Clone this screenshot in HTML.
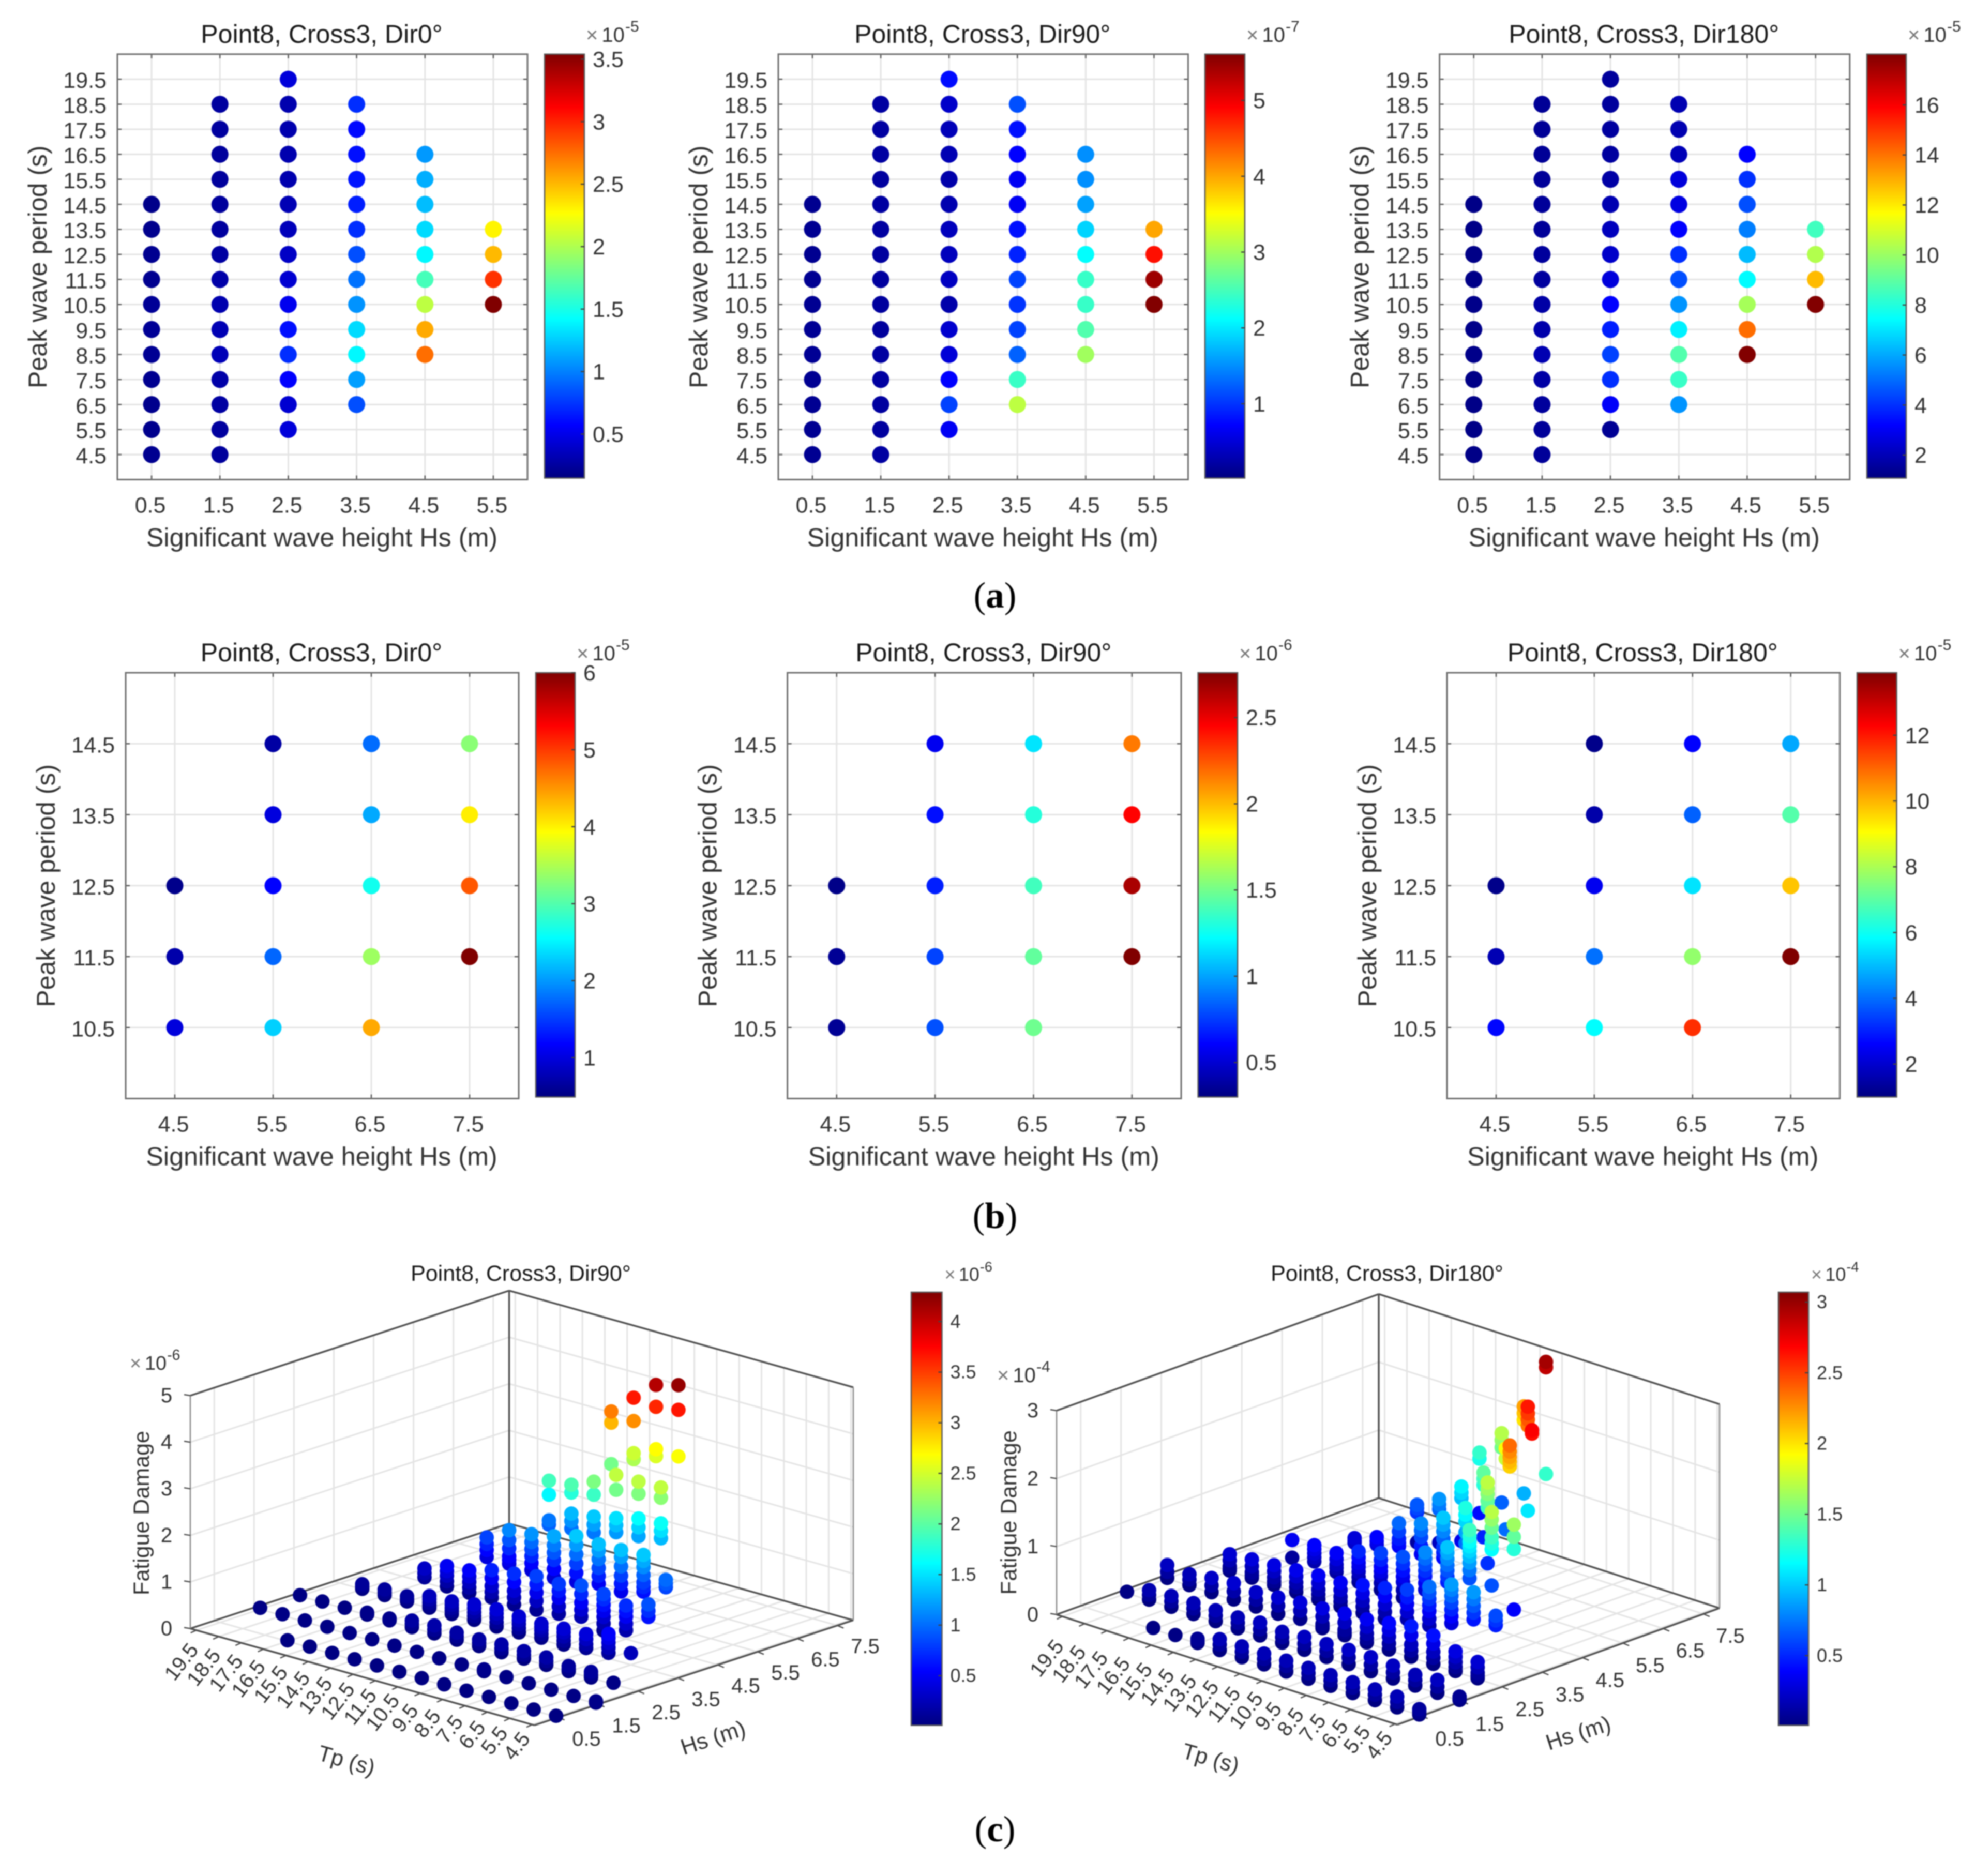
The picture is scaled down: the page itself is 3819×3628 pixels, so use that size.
<!DOCTYPE html>
<html lang="en">
<head>
<meta charset="utf-8">
<title>Point8, Cross3 fatigue damage charts</title>
<style>
html,body{margin:0;padding:0;background:#fff;}
svg{display:block;position:absolute;left:0;top:0;filter:blur(1px);}
text{font-family:"Liberation Sans",Arial,sans-serif;}
</style>
</head>
<body>
<svg id="figure" xmlns="http://www.w3.org/2000/svg" width="3819" height="3628" viewBox="0 0 3819 3628">
<defs>
<linearGradient id="jet" x1="0" y1="1" x2="0" y2="0">
<stop offset="0" stop-color="#000080"/>
<stop offset="0.125" stop-color="#0000ff"/>
<stop offset="0.375" stop-color="#00ffff"/>
<stop offset="0.625" stop-color="#ffff00"/>
<stop offset="0.875" stop-color="#ff0000"/>
<stop offset="1" stop-color="#800000"/>
</linearGradient>
</defs>
<rect x="0" y="0" width="3819" height="3628" fill="#ffffff"/>
<text x="1924" y="1175" font-size="71" text-anchor="middle" style="font-family:'Liberation Serif',serif"><tspan>(</tspan><tspan font-weight="bold">a</tspan><tspan>)</tspan></text>
<text x="1924" y="2375" font-size="71" text-anchor="middle" style="font-family:'Liberation Serif',serif"><tspan>(</tspan><tspan font-weight="bold">b</tspan><tspan>)</tspan></text>
<text x="1924" y="3561" font-size="71" text-anchor="middle" style="font-family:'Liberation Serif',serif"><tspan>(</tspan><tspan font-weight="bold">c</tspan><tspan>)</tspan></text>
</svg>
<script>
/* ---------- shared categories ---------- */
const hsCategoriesA = [0.5, 1.5, 2.5, 3.5, 4.5, 5.5];
const tpCategoriesA = [4.5, 5.5, 6.5, 7.5, 8.5, 9.5, 10.5, 11.5, 12.5, 13.5, 14.5, 15.5, 16.5, 17.5, 18.5, 19.5];
const hsCategoriesB = [4.5, 5.5, 6.5, 7.5];
const tpCategoriesB = [10.5, 11.5, 12.5, 13.5, 14.5];
const hsCategoriesC = [0.5, 1.5, 2.5, 3.5, 4.5, 5.5, 6.5, 7.5];
const tpCategoriesC = [4.5, 5.5, 6.5, 7.5, 8.5, 9.5, 10.5, 11.5, 12.5, 13.5, 14.5, 15.5, 16.5, 17.5, 18.5, 19.5];
const n = null;

/* ---------- panel (a) values: one row per Hs, one entry per Tp ---------- */
const a0Damage = [
 [.2,.19,.19,.2,.21,.22,.22,.2,.2,.19,.18,n,n,n,n,n],
 [.24,.25,.26,.28,.33,.32,.3,.28,.26,.25,.24,.24,.24,.25,.25,n],
 [n,.45,.42,.57,.72,.62,.52,.42,.38,.34,.32,.3,.3,.3,.3,.45],
 [n,n,.83,1.1,1.4,1.3,1.06,.95,.83,.72,.67,.64,.62,.6,.72,n],
 [n,n,n,n,2.75,2.55,2.05,1.65,1.4,1.3,1.2,1.15,1.08,n,n,n],
 [n,n,n,n,n,n,3.54,2.95,2.5,2.3,n,n,n,n,n,n]
];
const a90Damage = [
 [.12,.12,.12,.12,.13,.13,.12,.12,.11,.12,.11,n,n,n,n,n],
 [.2,.19,.19,.2,.2,.18,.18,.19,.19,.2,.2,.19,.2,.2,.2,n],
 [n,.66,1.08,.72,.5,.45,.25,.38,.35,.35,.28,.25,.3,.33,.42,.78],
 [n,n,3.15,2.43,1.25,1.08,1,1.08,.9,.8,.66,.66,.72,.8,1.15,n],
 [n,n,n,n,3,2.56,2.42,2.42,2.12,1.88,1.6,1.5,1.5,n,n,n],
 [n,n,n,n,n,n,5.6,5.45,4.83,4,n,n,n,n,n,n]
];
const a180Damage = [
 [1.2,1.2,1.2,1.2,1.25,1.25,1.25,1.2,1.2,1.2,1.2,n,n,n,n,n],
 [1.5,1.5,1.55,1.7,1.9,1.8,1.7,1.6,1.55,1.5,1.5,1.5,1.45,1.45,1.45,n],
 [n,1.42,3.1,3.96,4.3,3.7,3.2,2.6,2.3,2.1,1.9,1.7,1.6,1.6,1.55,1.55],
 [n,n,5.66,8.37,8.8,7.2,5.66,4.5,3.96,3.2,2.7,2.6,2,1.9,1.9,n],
 [n,n,n,n,18,14.1,10.2,7.4,6.3,5.3,4.5,4,3.2,n,n,n],
 [n,n,n,n,n,n,18,12.8,10.4,8.5,n,n,n,n,n,n]
];
const a0ColorRange = [0.148, 3.54];
const a90ColorRange = [0.02, 5.61];
const a180ColorRange = [1.08, 18.03];
const a0ColorTicks = [0.5, 1, 1.5, 2, 2.5, 3, 3.5];
const a90ColorTicks = [1, 2, 3, 4, 5];
const a180ColorTicks = [2, 4, 6, 8, 10, 12, 14, 16];

/* ---------- panel (b) values ---------- */
const b0Damage = [
 [.99,.72,.55,n,n],
 [2.3,1.73,1.18,1,.68],
 [4.4,3.41,2.64,2.09,1.76],
 [n,6,4.84,4.02,3.3]
];
const b90Damage = [
 [.35,.35,.32,n,n],
 [.8,.77,.68,.64,.57],
 [1.49,1.46,1.38,1.31,1.16],
 [n,2.76,2.66,2.45,2.16]
];
const b180Damage = [
 [2.68,1.65,1.13,n,n],
 [5.84,4.03,2.42,1.52,1.13],
 [11.7,7.7,5.5,3.84,2.6],
 [n,13.9,9.8,6.9,4.74]
];
const b0ColorRange = [0.49, 6];
const b90ColorRange = [0.3, 2.76];
const b180ColorRange = [1, 13.9];
const b0ColorTicks = [1, 2, 3, 4, 5, 6];
const b90ColorTicks = [0.5, 1, 1.5, 2, 2.5];
const b180ColorTicks = [2, 4, 6, 8, 10, 12];

/* ---------- panel (c) values: per Hs, per Tp, list of damage samples ---------- */
const c90Damage = [
 [[.02],[.02],[.02],[.02],[.02],[.02],[.02],[.02],[.02],[.02],[.02],[.02],[.02],[],[],[]],
 [[.02,.05],[.03],[.03],[.03],[.03],[.02,.06],[.03],[.03],[.03],[.03],[.03],[.03],[.03],[.03],[.03],[.03]],
 [[],[.03],[.01,.07,.13],[.01,.06,.12],[.01,.09,.17],[.01,.09,.17],[.01,.09,.18],[.01,.08,.15],[.01,.08,.16],[.01,.09,.18],[.01,.08,.15],[.02,.06],[.01,.05],[.02],[.02],[.02]],
 [[],[],[.25],[.12,.23,.34,.44,.53],[.09,.17,.28,.39],[.03,.11,.2,.29,.37],[.04,.12,.2,.27,.34],[.02,.11,.2,.28,.36],[.01,.1,.2,.29,.38],[.02,.1,.18,.27,.35],[.01,.08,.14,.21,.28],[.01,.06,.12,.19,.26],[.01,.06,.12],[.01,.07,.13],[.01,.06,.11],[]],
 [[],[],[],[.61,.74,.88],[.19,.33,.48,.6,.72],[.05,.2,.34,.47,.6,.72,.83],[.21,.36,.51,.7,.88],[.14,.3,.48,.63,.78],[.09,.28,.46,.64,.81],[.07,.22,.36,.55,.73],[.08,.2,.33,.5,.67],[.05,.16,.28,.4,.53],[.05,.16,.28,.38,.49],[.11,.2,.3],[],[]],
 [[],[],[],[],[.83,.91,.99],[.6,.7,.8,.96,1.13,1.26,1.39],[.47,.64,.81,1.01,1.21,1.36],[.5,.67,.84,1.03,1.21,1.35],[.41,.6,.8,1,1.2,1.39],[.36,.55,.74,.9,1.06,1.25],[.39,.54,.69,.84,.99,1.16],[.39,.47,.55,.72,.9,1.11],[.4,.55,.68,.82],[],[],[]],
 [[],[],[],[],[],[],[1.33,1.49,1.65,2.2,2.42],[1.24,1.43,1.62,2.15,2.41],[1.19,1.34,1.49,2.1,2.42],[1.05,1.22,1.39,1.86,2.14],[1,1.16,1.32,1.77,1.94],[.95,1.04,1.59,1.89],[],[],[],[]],
 [[],[],[],[],[],[],[],[2.67,3.67,4.2],[2.54,2.69,3.6,4.07],[2.34,2.47,3.16,3.66],[2.1,2.99,3.23],[],[],[],[],[]]
];
const c180Damage = [
 [[.01,.05,.09],[.01,.09,.17],[.01,.09,.17],[.01,.09,.17],[.01,.09,.17],[.01,.09,.17],[.01,.09,.17],[.01,.09,.17],[.01,.09,.17],[.01,.09,.17],[.01,.04,.07],[.02],[.02],[],[],[]],
 [[.01,.03,.06],[.01,.1,.2],[.01,.09,.17],[.01,.1,.2],[.01,.11,.22],[.01,.11,.22],[.01,.1,.2],[.01,.1,.2],[.01,.09,.17],[.01,.1,.2],[.01,.09,.17],[.01,.09,.17],[.01,.09,.17],[.01,.09,.17],[.01,.08,.15],[.02]],
 [[],[.01,.05,.09,.17,.25],[.01,.07,.14,.22,.3],[.01,.1,.19,.31,.43],[.01,.1,.19,.33,.46],[.01,.1,.2,.3,.4],[.01,.07,.14,.24,.35],[.01,.05,.09,.2,.33],[.01,.04,.07,.18,.3],[.04,.16,.28],[.01,.13,.25],[.01,.11,.22],[.01,.13,.25],[.01,.11,.22],[.01,.09,.17],[.01,.1,.2]],
 [[],[],[.47,.54,.61],[.45,.55,.65,.75,.85],[.29,.39,.49,.59,.69,.78,.86],[.15,.25,.36,.45,.54,.63,.72],[.14,.25,.36,.46,.57],[.04,.14,.25,.37,.49],[.02,.11,.2,.31,.43],[.01,.08,.15,.25,.36],[.01,.08,.15,.25,.36],[.01,.08,.15,.24,.33],[.01,.06,.12,.21,.3],[.01,.05,.09,.18,.28],[.01,.04,.07,.16,.25],[]],
 [[],[],[],[.38,1.27,1.45,1.63],[.63,1.16,1.25,1.34,1.48,1.6,1.71],[.63,.75,.86,.95,1.03,1.1,1.17,1.25,1.34],[.47,.55,.64,.72,.81,.9,.98],[.25,.35,.45,.53,.62,.71,.8],[.03,.14,.26,.34,.43,.53,.63],[.04,.14,.24,.31,.38,.48,.58],[.05,.12,.2,.27,.33,.41,.5],[.09,.15,.2,.28,.37],[.14,.2,.26,.32,.38],[.09,.35],[],[]],
 [[],[],[],[],[2.65,2.7],[2.06,2.13,2.2,2.28,2.37],[.53,1.35,1.45,1.55,1.63,1.72],[.72,.88,1.04,1.14,1.24],[.4,.48,.56,.68,.79,.89,.99],[.35,.47,.6,.7,.8],[.36,.41,.47,.58,.7],[.28,.33,.39],[.2,.23,.27],[],[],[]],
 [[],[],[],[],[],[],[1.09,2.34,2.43,2.52,2.62],[.71,1.75,1.9],[.49,1.26,1.35,1.44],[.33,.96,1.04,1.13],[.2,.69,.76,.84],[.1,.54,.6,.65],[],[],[],[]],
 [[],[],[],[],[],[],[],[1.31,2.88,2.96],[.92,2,2.1,2.2],[.68,1.49,1.6,1.7],[.42,1.22,1.31],[],[],[],[],[]]
];
const c90ColorRange = [0.01, 4.29];
const c180ColorRange = [0.007, 3.07];
const c90ColorTicks = [0.5, 1, 1.5, 2, 2.5, 3, 3.5, 4];
const c180ColorTicks = [0.5, 1, 1.5, 2, 2.5, 3];
const c90ZTicks = [0, 1, 2, 3, 4, 5];
const c180ZTicks = [0, 1, 2, 3];

/* ---------- helpers ---------- */
const SVGNS = 'http://www.w3.org/2000/svg';
const figure = document.getElementById('figure');
const AXIS = '#5a5a5a', GRID = '#e4e4e4', INK = '#333333', TITLE = '#1a1a1a';

function mk(parent, tag, attrs) {
  const e = document.createElementNS(SVGNS, tag);
  for (const k in attrs) e.setAttribute(k, attrs[k]);
  parent.appendChild(e);
  return e;
}
function line(parent, x1, y1, x2, y2, stroke, width) {
  return mk(parent, 'line', {x1, y1, x2, y2, stroke, 'stroke-width': width});
}
function txt(parent, x, y, str, size, anchor, fill, rot) {
  const a = {x, y, 'font-size': size, 'text-anchor': anchor, fill};
  if (rot) a.transform = 'rotate(' + rot + ' ' + x + ' ' + y + ')';
  const e = mk(parent, 'text', a);
  e.textContent = str;
  return e;
}
function jet(t) {
  t = Math.max(0, Math.min(1, t));
  const stops = [[0,0,0,128],[.125,0,0,255],[.375,0,255,255],[.625,255,255,0],[.875,255,0,0],[1,128,0,0]];
  for (let i = 1; i < stops.length; i++) {
    if (t <= stops[i][0]) {
      const a = stops[i-1], b = stops[i], f = (t - a[0]) / (b[0] - a[0]);
      return 'rgb(' + [1,2,3].map(j => Math.round(a[j] + (b[j] - a[j]) * f)).join(',') + ')';
    }
  }
  return 'rgb(128,0,0)';
}
function fmt(v) { return String(v); }

function exponent(parent, x, y, size, power) {
  const times = txt(parent, x, y, '\u00d7', size, 'start', '#777777');
  
  
  const ten = txt(parent, x + size * 0.76, y, '10', size, 'start', INK);
  
  
  const sup = txt(parent, x + size * 1.9, y - size * 0.5, power, size * 0.75, 'start', INK);
  
  
}

function colorbar(parent, box, range, ticks, fontSize, labelGap, baselineShift, power, expGeom) {
  const g = mk(parent, 'g', {});
  
  
  const r = mk(g, 'rect', {x: box.left, y: box.top, width: box.right - box.left, height: box.bottom - box.top, fill: 'url(#jet)', stroke: AXIS, 'stroke-width': 2.5});
  
  
  const cy = v => box.bottom - (v - range[0]) / (range[1] - range[0]) * (box.bottom - box.top);
  ticks.forEach(v => {
    const t = line(g, box.right - 7, cy(v), box.right, cy(v), '#444', 2.5);
    
    
    const l = txt(g, box.right + labelGap, cy(v) + baselineShift, fmt(v), fontSize, 'start', INK);
    
    
  });
  exponent(g, expGeom.x, expGeom.y, expGeom.size, power);
}

/* ---------- 2D scatter panels ---------- */
function scatter2D(spec) {
  const g = mk(figure, 'g', {});
  
  
  const b = spec.box;
  const xOf = v => b.left + (v - spec.xLim[0]) / (spec.xLim[1] - spec.xLim[0]) * (b.right - b.left);
  const yOf = v => b.bottom - (v - spec.yLim[0]) / (spec.yLim[1] - spec.yLim[0]) * (b.bottom - b.top);

  const bg = mk(g, 'rect', {x: b.left, y: b.top, width: b.right - b.left, height: b.bottom - b.top, fill: '#fff'});
  
  

  spec.hs.forEach(v => {
    const gl = line(g, xOf(v), b.top, xOf(v), b.bottom, GRID, 3);
    
    
  });
  spec.tp.forEach(v => {
    const gl = line(g, b.left, yOf(v), b.right, yOf(v), GRID, 3);
    
    
  });
  spec.hs.forEach(v => {
    const t1 = line(g, xOf(v), b.bottom, xOf(v), b.bottom - 8, AXIS, 2.5);
    
    
    const t2 = line(g, xOf(v), b.top, xOf(v), b.top + 8, AXIS, 2.5);
    
    
    const l = txt(g, xOf(v) - 2.5, b.bottom + 64, fmt(v), 43, 'middle', INK);
    
    
  });
  spec.tp.forEach(v => {
    const t1 = line(g, b.left, yOf(v), b.left + 8, yOf(v), AXIS, 2.5);
    
    
    const t2 = line(g, b.right, yOf(v), b.right - 8, yOf(v), AXIS, 2.5);
    
    
    const l = txt(g, b.left - 21, yOf(v) + 17, fmt(v), 43, 'end', INK);
    
    
  });
  const frame = mk(g, 'rect', {x: b.left, y: b.top, width: b.right - b.left, height: b.bottom - b.top, fill: 'none', stroke: '#6e6e6e', 'stroke-width': 3});
  
  

  spec.values.forEach((row, i) => row.forEach((v, j) => {
    if (v === null) return;
    const c = mk(g, 'circle', {cx: xOf(spec.hs[i]), cy: yOf(spec.tp[j]), r: 16.5, fill: jet((v - spec.range[0]) / (spec.range[1] - spec.range[0]))});
    
    
  }));

  const title = txt(g, (b.left + b.right) / 2 - 1.5, b.top - 22, spec.title, 50, 'middle', TITLE);
  
  
  const xl = txt(g, (b.left + b.right) / 2 - 1, b.bottom + 129, 'Significant wave height Hs (m)', 50.3, 'middle', INK);
  
  
  const yl = txt(g, b.left - 137, (b.top + b.bottom) / 2, 'Peak wave period (s)', 50, 'middle', INK, -90);
  
  

  const cb = spec.cbar;
  colorbar(g, cb, spec.range, spec.ticks, 43, 16, 15, spec.power, {x: cb.right + 3, y: b.top - 24, size: 40});
}

const rowA = {top: 104.8, bottom: 927.5}, rowB = {top: 1301, bottom: 2124.5};
const cbA = {top: 104.8, bottom: 924.5}, cbB = {top: 1301, bottom: 2121.4};

scatter2D({name: 'panel-a-dir0', title: 'Point8, Cross3, Dir0\u00b0', hs: hsCategoriesA, tp: tpCategoriesA, values: a0Damage, range: a0ColorRange, ticks: a0ColorTicks, power: '-5',
  xLim: [0, 6], yLim: [3.5, 20.5], box: {left: 227, right: 1020, top: rowA.top, bottom: rowA.bottom}, cbar: {left: 1053, right: 1130, top: cbA.top, bottom: cbA.bottom}});
scatter2D({name: 'panel-a-dir90', title: 'Point8, Cross3, Dir90\u00b0', hs: hsCategoriesA, tp: tpCategoriesA, values: a90Damage, range: a90ColorRange, ticks: a90ColorTicks, power: '-7',
  xLim: [0, 6], yLim: [3.5, 20.5], box: {left: 1505, right: 2297.5, top: rowA.top, bottom: rowA.bottom}, cbar: {left: 2330, right: 2407, top: cbA.top, bottom: cbA.bottom}});
scatter2D({name: 'panel-a-dir180', title: 'Point8, Cross3, Dir180\u00b0', hs: hsCategoriesA, tp: tpCategoriesA, values: a180Damage, range: a180ColorRange, ticks: a180ColorTicks, power: '-5',
  xLim: [0, 6], yLim: [3.5, 20.5], box: {left: 2783.6, right: 3576.8, top: rowA.top, bottom: rowA.bottom}, cbar: {left: 3610, right: 3686, top: cbA.top, bottom: cbA.bottom}});
scatter2D({name: 'panel-b-dir0', title: 'Point8, Cross3, Dir0\u00b0', hs: hsCategoriesB, tp: tpCategoriesB, values: b0Damage, range: b0ColorRange, ticks: b0ColorTicks, power: '-5',
  xLim: [4, 8], yLim: [9.5, 15.5], box: {left: 243, right: 1003, top: rowB.top, bottom: rowB.bottom}, cbar: {left: 1036, right: 1112, top: cbB.top, bottom: cbB.bottom}});
scatter2D({name: 'panel-b-dir90', title: 'Point8, Cross3, Dir90\u00b0', hs: hsCategoriesB, tp: tpCategoriesB, values: b90Damage, range: b90ColorRange, ticks: b90ColorTicks, power: '-6',
  xLim: [4, 8], yLim: [9.5, 15.5], box: {left: 1522.6, right: 2284, top: rowB.top, bottom: rowB.bottom}, cbar: {left: 2316.6, right: 2393, top: cbB.top, bottom: cbB.bottom}});
scatter2D({name: 'panel-b-dir180', title: 'Point8, Cross3, Dir180\u00b0', hs: hsCategoriesB, tp: tpCategoriesB, values: b180Damage, range: b180ColorRange, ticks: b180ColorTicks, power: '-5',
  xLim: [4, 8], yLim: [9.5, 15.5], box: {left: 2798, right: 3557.6, top: rowB.top, bottom: rowB.bottom}, cbar: {left: 3591, right: 3667.6, top: cbB.top, bottom: cbB.bottom}});

/* ---------- 3D scatter panels ---------- */
function scatter3D(spec) {
  const g = mk(figure, 'g', {});
  
  
  const L = spec.L, R = spec.R, B = spec.B;
  const F = [L[0] + R[0] - B[0], L[1] + R[1] - B[1]];
  const hsMin = -0.1, hsMax = 7.9, tpMin = 4.4, tpMax = 19.77;
  const zMax = spec.zTicks[spec.zTicks.length - 1];
  const zPx = (L[1] - spec.topY) / zMax;
  const proj = (hs, tp, z) => {
    const a = (hs - hsMin) / (hsMax - hsMin), b = (tp - tpMin) / (tpMax - tpMin);
    return [F[0] + a * (R[0] - F[0]) + b * (L[0] - F[0]), F[1] + a * (R[1] - F[1]) + b * (L[1] - F[1]) - z * zPx];
  };
  const seg = (p, q, color, w, name) => {
    const s = line(g, p[0], p[1], q[0], q[1], color, w);
    
    
    return s;
  };

  spec.hs.forEach(h => {
    seg(proj(h, tpMin, 0), proj(h, tpMax, 0), GRID, 3, 'floor-gridline');
    seg(proj(h, tpMax, 0), proj(h, tpMax, zMax), GRID, 3, 'wall-gridline');
  });
  spec.tp.forEach(t => {
    seg(proj(hsMin, t, 0), proj(hsMax, t, 0), GRID, 3, 'floor-gridline');
    seg(proj(hsMax, t, 0), proj(hsMax, t, zMax), GRID, 3, 'wall-gridline');
  });
  spec.zTicks.forEach(z => {
    seg(proj(hsMin, tpMax, z), proj(hsMax, tpMax, z), GRID, 3, 'wall-gridline');
    seg(proj(hsMax, tpMax, z), proj(hsMax, tpMin, z), GRID, 3, 'wall-gridline');
  });

  /* box edges */
  const E = '#505050';
  seg(proj(hsMin, tpMin, 0), proj(hsMin, tpMax, 0), E, 3.5, 'tp-axis-edge');
  seg(proj(hsMin, tpMin, 0), proj(hsMax, tpMin, 0), E, 3.5, 'hs-axis-edge');
  seg(proj(hsMin, tpMax, 0), proj(hsMax, tpMax, 0), E, 3.5, 'back-floor-edge');
  seg(proj(hsMax, tpMax, 0), proj(hsMax, tpMin, 0), E, 3.5, 'back-floor-edge');
  seg(proj(hsMin, tpMax, zMax), proj(hsMax, tpMax, zMax), E, 3.5, 'top-edge');
  seg(proj(hsMax, tpMax, zMax), proj(hsMax, tpMin, zMax), E, 3.5, 'top-edge');
  seg(proj(hsMax, tpMax, 0), proj(hsMax, tpMax, zMax), E, 3.5, 'back-vertical-edge');
  seg(proj(hsMin, tpMax, 0), proj(hsMin, tpMax, zMax), '#8a8a8a', 2.5, 'z-axis-edge');
  seg(proj(hsMax, tpMin, 0), proj(hsMax, tpMin, zMax), '#8a8a8a', 2.5, 'right-vertical-edge');

  /* ticks + labels */
  spec.tp.forEach(t => {
    const p = proj(hsMin, t, 0);
    seg(p, [p[0] - 11, p[1] + 5], E, 2.5, 'tp-tick');
    const f = (t - spec.tp[0]) / (spec.tp[spec.tp.length - 1] - spec.tp[0]);
    const x = spec.tpLabel0[0] + f * (spec.tpLabel1[0] - spec.tpLabel0[0]);
    const y = spec.tpLabel0[1] + f * (spec.tpLabel1[1] - spec.tpLabel0[1]);
    const l = txt(g, x, y, fmt(t), 40, 'middle', INK, -52);
    l.setAttribute('dominant-baseline', 'central');
    
    
  });
  spec.hs.forEach(h => {
    const p = proj(h, tpMin, 0);
    seg(p, [p[0] + 12, p[1] + 5], E, 2.5, 'hs-tick');
    const f = (h - spec.hs[0]) / (spec.hs[spec.hs.length - 1] - spec.hs[0]);
    const x = spec.hsLabel0[0] + f * (spec.hsLabel1[0] - spec.hsLabel0[0]);
    const y = spec.hsLabel0[1] + f * (spec.hsLabel1[1] - spec.hsLabel0[1]);
    const l = txt(g, x, y + 14, fmt(h), 40, 'middle', INK);
    
    
  });
  spec.zTicks.forEach(z => {
    const p = proj(hsMin, tpMax, z);
    seg(p, [p[0] - 12, p[1] - 2], E, 2.5, 'z-tick');
    const l = txt(g, p[0] - 46, p[1] + 13, fmt(z), 40, 'middle', INK);
    
    
  });

  /* marks, far to near */
  const marks = [];
  spec.values.forEach((row, i) => row.forEach((list, j) => list.forEach(v => {
    marks.push({hs: spec.hs[i], tp: spec.tp[j], v, floor: proj(spec.hs[i], spec.tp[j], 0)[1]});
  })));
  marks.sort((a, b) => a.floor - b.floor || a.v - b.v);
  marks.forEach(m => {
    const p = proj(m.hs, m.tp, m.v);
    const c = mk(g, 'circle', {cx: p[0], cy: p[1], r: 14, fill: jet((m.v - spec.range[0]) / (spec.range[1] - spec.range[0]))});
    
    
  });

  const title = txt(g, spec.titleX, 2477, spec.title, 43, 'middle', TITLE);
  
  
  const zl = txt(g, spec.zTitle[0], spec.zTitle[1], 'Fatigue Damage', 43, 'middle', INK, -90);
  
  
  const tl = txt(g, spec.tpTitle[0], spec.tpTitle[1], 'Tp (s)', 43, 'middle', INK, 16);
  tl.setAttribute('dominant-baseline', 'central');
  
  
  const hl = txt(g, spec.hsTitle[0], spec.hsTitle[1], 'Hs (m)', 43, 'middle', INK, -18);
  hl.setAttribute('dominant-baseline', 'central');
  
  

  exponent(g, spec.zExp[0], spec.zExp[1], spec.zExp[2], spec.power);
  const cb = spec.cbar;
  colorbar(g, cb, spec.range, spec.ticks, 36, 16, 12, spec.cbPower, {x: cb.right + 5, y: 2477, size: 36});
}

scatter3D({name: 'panel-c-dir90', title: 'Point8, Cross3, Dir90\u00b0', titleX: 1007,
  hs: hsCategoriesC, tp: tpCategoriesC, values: c90Damage, range: c90ColorRange, ticks: c90ColorTicks, zTicks: c90ZTicks, power: '-6', cbPower: '-6',
  L: [368, 3149.5], R: [1650, 3133.4], B: [984.6, 2946.4], topY: 2699,
  tpLabel0: [999.5, 3377], tpLabel1: [351, 3214], hsLabel0: [1134, 3362], hsLabel1: [1673, 3183],
  zTitle: [288, 2926], tpTitle: [670, 3405], hsTitle: [1379, 3361], zExp: [251, 2649, 38],
  cbar: {left: 1762, right: 1821.5, top: 2499, bottom: 3336.6}});
scatter3D({name: 'panel-c-dir180', title: 'Point8, Cross3, Dir180\u00b0', titleX: 2682,
  hs: hsCategoriesC, tp: tpCategoriesC, values: c180Damage, range: c180ColorRange, ticks: c180ColorTicks, zTicks: c180ZTicks, power: '-4', cbPower: '-4',
  L: [2043, 3122.4], R: [3325, 3110], B: [2666, 2897], topY: 2728,
  tpLabel0: [2667, 3375.4], tpLabel1: [2024.5, 3207], hsLabel0: [2803, 3362], hsLabel1: [3346, 3163],
  zTitle: [1965, 2925], tpTitle: [2341, 3401], hsTitle: [3052, 3352], zExp: [1928, 2673, 40],
  cbar: {left: 3439, right: 3497, top: 2499, bottom: 3336.6}});
</script>
</body>
</html>
